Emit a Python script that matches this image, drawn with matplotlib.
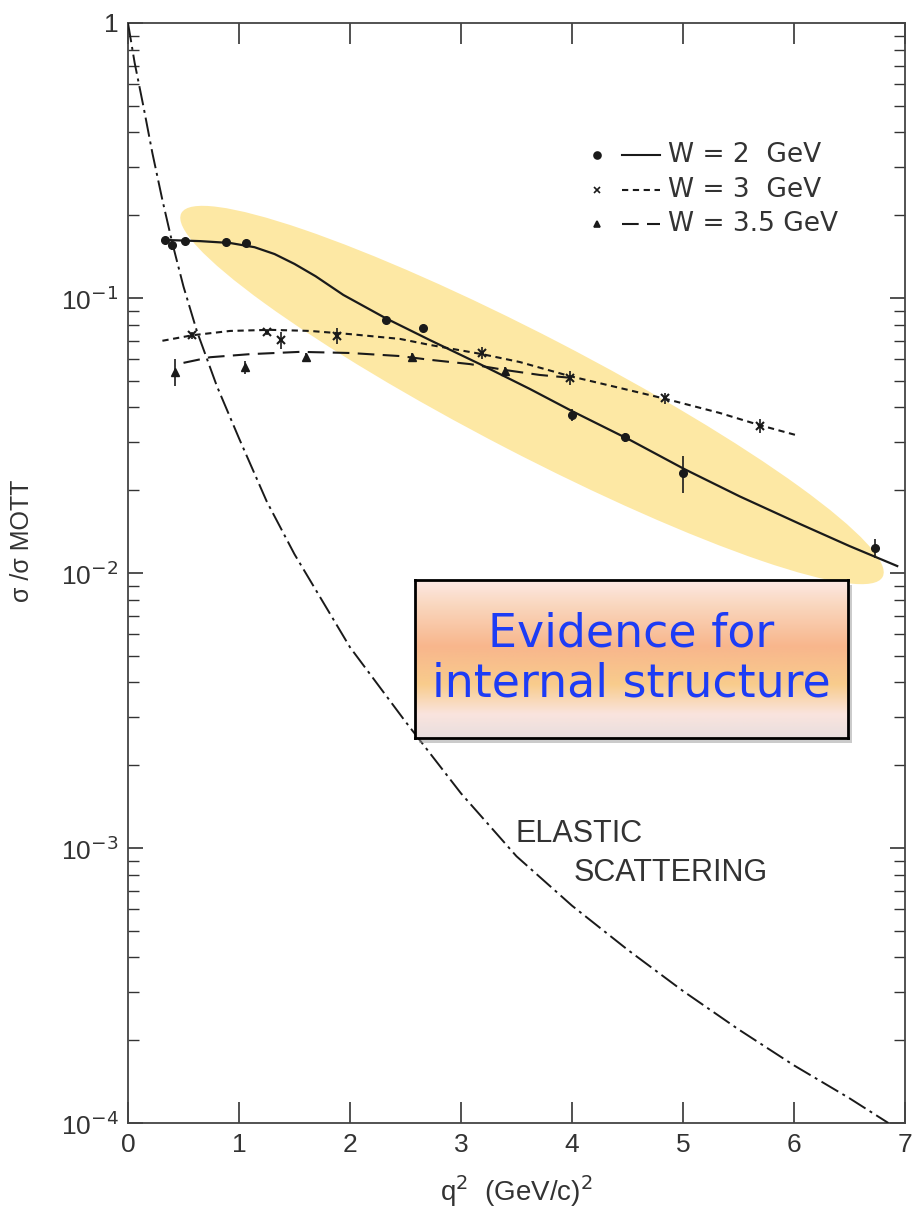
import numpy as np
import matplotlib
matplotlib.use("Agg")
import matplotlib.pyplot as plt
from matplotlib.patches import Ellipse, Rectangle

plt.rcParams["font.family"] = ["Liberation Sans", "DejaVu Sans"]

# --- data ----------------------------------------------------------------
# W = 2 GeV (dots)
w2_x = [0.33, 0.40, 0.51, 0.88, 1.06, 2.32, 2.66, 4.00, 4.48, 5.00, 6.73]
w2_y = [0.163, 0.156, 0.161, 0.160, 0.158, 0.083, 0.078, 0.0376, 0.0312, 0.0231, 0.0123]
w2_err = [0.004, 0.006, 0.003, 0.003, 0.003, 0.002, 0.002, 0.0018, 0.0012, 0.0035, 0.0010]
w2_fit_x = [0.33, 0.65, 0.92, 1.14, 1.32, 1.50, 1.69, 1.94, 2.32, 2.72, 3.17, 3.62,
            4.00, 4.52, 5.01, 5.51, 6.05, 6.50, 6.93]
w2_fit_y = [0.1626, 0.161, 0.1585, 0.153, 0.1445, 0.133, 0.120, 0.1026, 0.0845,
            0.0703, 0.0575, 0.0467, 0.0388, 0.0305, 0.0239, 0.0190, 0.0151,
            0.01253, 0.0106]

# W = 3 GeV (crosses)
w3_x = [0.58, 1.25, 1.38, 1.88, 3.19, 3.98, 4.84, 5.69]
w3_y = [0.0732, 0.0751, 0.0703, 0.0728, 0.0631, 0.0512, 0.0432, 0.0343]
w3_err = [0.002, 0.002, 0.005, 0.005, 0.003, 0.003, 0.002, 0.002]
w3_fit_x = [0.31, 0.58, 0.92, 1.28, 1.64, 2.00, 2.45, 2.72, 3.19, 3.53, 3.98,
            4.43, 4.84, 5.33, 5.69, 6.01]
w3_fit_y = [0.0699, 0.0732, 0.0759, 0.0766, 0.0759, 0.0739, 0.0710, 0.0675, 0.0625,
            0.0585, 0.0520, 0.0471, 0.0430, 0.0382, 0.0345, 0.0318]

# W = 3.5 GeV (triangles)
w35_x = [0.42, 1.05, 1.60, 2.56, 3.40]
w35_y = [0.0538, 0.0561, 0.0609, 0.0609, 0.0543]
w35_err = [0.006, 0.003, 0.002, 0.002, 0.002]
w35_fit_x = [0.50, 0.74, 1.10, 1.55, 2.00, 2.45, 2.72, 3.08, 3.40, 3.71, 4.00]
w35_fit_y = [0.0581, 0.0609, 0.0625, 0.0637, 0.0631, 0.0615, 0.0596, 0.0575,
             0.0547, 0.0525, 0.0512]

# elastic scattering
el_x = [0.0, 0.06, 0.14, 0.22, 0.31, 0.40, 0.50, 0.62, 0.80, 1.00, 1.25, 1.50,
        2.00, 2.50, 3.00, 3.50, 4.00, 4.50, 5.00, 5.50, 6.00, 6.50, 6.85]
el_y = [1.0, 0.716, 0.495, 0.336, 0.227, 0.158, 0.110, 0.0759, 0.0479, 0.0309,
        0.0182, 0.0117, 0.00537, 0.00288, 0.00158, 0.000933, 0.000617, 0.000427,
        0.000302, 0.000219, 0.000162, 0.000123, 0.0001]

x_ticks = [0, 1, 2, 3, 4, 5, 6, 7]
y_ticks = [1e-4, 1e-3, 1e-2, 1e-1, 1]
y_ticklabels = ["10$^{-4}$", "10$^{-3}$", "10$^{-2}$", "10$^{-1}$", "1"]
legend_labels = ["W = 2  GeV", "W = 3  GeV", "W = 3.5 GeV"]

# --- figure ---------------------------------------------------------------
fig = plt.figure(figsize=(9.16, 12.2), dpi=100)
ax = fig.add_axes([128 / 916, 1 - 1123 / 1220, 777 / 916, 1100 / 1220])
ax.set_yscale("log")
ax.set_xlim(0, 7)
ax.set_ylim(1e-4, 1)

gray = "#333333"
ink = "#1a1a1a"

# yellow highlight (figure inches)
ell = Ellipse((5.32, (1220 - 395) / 100), 7.9, 1.18, angle=-27.4,
              transform=fig.dpi_scale_trans, facecolor="#fde8a4",
              edgecolor="none", zorder=1)
ax.add_patch(ell)

ax.plot(el_x, el_y, color=ink, lw=1.4, ls=(0, (10, 2.5, 1.5, 2.5)), zorder=3)
ax.plot(w2_fit_x, w2_fit_y, color=ink, lw=1.6, zorder=3)
ax.plot(w3_fit_x, w3_fit_y, color=ink, lw=1.5, ls=(0, (3, 2.2)), zorder=3)
ax.plot(w35_fit_x, w35_fit_y, color=ink, lw=1.5, ls=(0, (8, 4)), zorder=3)

ax.errorbar(w2_x, w2_y, yerr=w2_err, fmt="o", ms=5.5, color=ink, elinewidth=1.2,
            capsize=0, zorder=4)
ax.errorbar(w3_x, w3_y, yerr=w3_err, fmt="x", ms=5.5, mew=1.5, color=ink,
            elinewidth=1.2, capsize=0, zorder=4)
ax.errorbar(w35_x, w35_y, yerr=w35_err, fmt="^", ms=5.5, color=ink,
            elinewidth=1.2, capsize=0, zorder=4)

# axes styling
ax.set_xticks(x_ticks)
ax.set_xticklabels([str(t) for t in x_ticks])
ax.set_yticks(y_ticks)
ax.set_yticklabels(y_ticklabels)
ax.tick_params(which="major", direction="in", length=11, width=1.2,
               labelsize=19, top=True, right=True, pad=7, colors=gray)
ax.tick_params(axis="x", which="major", length=15)
ax.tick_params(which="minor", direction="in", length=8, width=1.0,
               right=True, top=False, colors=gray)
ax.xaxis.set_minor_locator(matplotlib.ticker.NullLocator())
for s in ax.spines.values():
    s.set_linewidth(1.3)
    s.set_color("#444444")

ax.set_xlabel("q$^2$  (GeV/c)$^2$", fontsize=20, labelpad=12, color=gray)
fig.text(22 / 916, 1 - 541 / 1220, "σ /σ MOTT", rotation=90, fontsize=18,
         ha="center", va="center", color=gray)

ax.text(3.49, 1.12e-3, "ELASTIC", fontsize=22, color=gray, va="center", ha="left")
ax.text(4.01, 8.1e-4, "SCATTERING", fontsize=22, color=gray, va="center",
        ha="left")

# legend drawn by hand: marker, then line sample, then label
legend_markers = ["o", "x", "^"]
legend_styles = ["-", (0, (3, 2.2)), (0, (8, 4))]
legend_rows = [0.880, 0.848, 0.817]
for mk, st, yy, lab in zip(legend_markers, legend_styles, legend_rows,
                           legend_labels):
    ax.plot([0.6036], [yy], marker=mk, ms=5, mew=1.2, color=ink, ls="none",
            transform=ax.transAxes, zorder=4)
    ax.plot([0.636, 0.685], [yy, yy], color=ink, lw=1.5, ls=st,
            transform=ax.transAxes, zorder=4)
    ax.text(0.695, yy, lab, transform=ax.transAxes, fontsize=19,
            family=["DejaVu Sans"], va="center", ha="left", color=gray)

# annotation box with gradient fill
bx = fig.add_axes([415 / 916, 1 - 738 / 1220, 433 / 916, 158 / 1220], zorder=5)
stops = [0.0, 0.15, 0.42, 0.66, 0.85, 1.0]
cols = np.array([[252, 232, 228], [250, 216, 192], [248, 182, 140],
                 [248, 204, 140], [250, 228, 222], [232, 222, 222]]) / 255
t = np.linspace(0, 1, 200)
grad = np.stack([np.interp(t, stops, cols[:, i]) for i in range(3)], axis=-1)
bx.imshow(grad[:, None, :], aspect="auto", extent=(0, 1, 0, 1))
bx.set_xticks([])
bx.set_yticks([])
for s in bx.spines.values():
    s.set_linewidth(2)
    s.set_color("black")
bx.text(0.5, 0.5, "Evidence for\ninternal structure", ha="center", va="center",
        fontsize=33, family=["DejaVu Sans"], color="#1d3cf5", linespacing=1.15,
        transform=bx.transAxes)
shadow = Rectangle((419 / 916, 1 - 743 / 1220), 433 / 916, 158 / 1220,
                   transform=fig.transFigure, facecolor="#999999", alpha=0.5,
                   edgecolor="none", zorder=4)
fig.patches.append(shadow)

fig.savefig("out.png", dpi=100)
